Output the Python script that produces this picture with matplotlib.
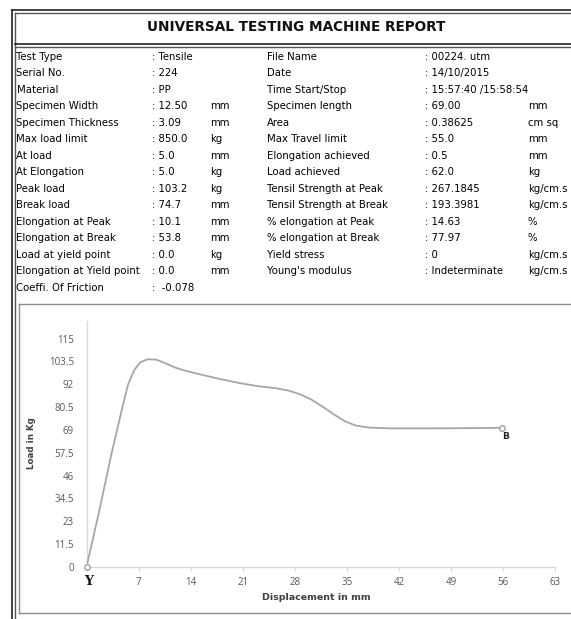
import matplotlib
matplotlib.use("Agg")
import matplotlib.pyplot as plt

# report table (label, value, unit) for left and right columns
left_labels = ["Test Type", "Serial No.", "Material", "Specimen Width", "Specimen Thickness",
               "Max load limit", "At load", "At Elongation", "Peak load", "Break load",
               "Elongation at Peak", "Elongation at Break", "Load at yield point",
               "Elongation at Yield point", "Coeffi. Of Friction"]
left_values = [": Tensile", ": 224", ": PP", ": 12.50", ": 3.09", ": 850.0", ": 5.0", ": 5.0",
               ": 103.2", ": 74.7", ": 10.1", ": 53.8", ": 0.0", ": 0.0", ":  -0.078"]
left_units = ["", "", "", "mm", "mm", "kg", "mm", "kg", "kg", "mm", "mm", "mm", "kg", "mm", ""]

right_labels = ["File Name", "Date", "Time Start/Stop", "Specimen length", "Area",
                "Max Travel limit", "Elongation achieved", "Load achieved",
                "Tensil Strength at Peak", "Tensil Strength at Break", "% elongation at Peak",
                "% elongation at Break", "Yield stress", "Young's modulus"]
right_values = [": 00224. utm", ": 14/10/2015", ": 15:57:40 /15:58:54", ": 69.00", ": 0.38625",
                ": 55.0", ": 0.5", ": 62.0", ": 267.1845", ": 193.3981", ": 14.63", ": 77.97",
                ": 0", ": Indeterminate"]
right_units = ["", "", "", "mm", "cm sq", "mm", "mm", "kg", "kg/cm.s", "kg/cm.s", "%", "%",
               "kg/cm.s", "kg/cm.s"]

# load-displacement curve
disp = [0, 1.7, 3.3, 4.8, 5.6, 6.4, 7.2, 8.2, 9.4, 10.6, 12.0, 13.5, 15.5, 18.0, 20.6,
        23.0, 25.5, 27.2, 28.7, 30.2, 31.8, 33.4, 34.8, 36.2, 38.0, 41.0, 46.0, 51.0, 55.9]
load = [0, 28, 56, 80, 92, 99, 103, 104.6, 104.4, 102.6, 100.3, 98.6, 96.8, 94.6, 92.6,
        91.1, 90.0, 88.8, 87.0, 84.4, 80.6, 76.5, 73.3, 71.2, 70.2, 69.8, 69.8, 69.9, 70.1]

yticks = [0, 11.5, 23, 34.5, 46, 57.5, 69, 80.5, 92, 103.5, 115]
ytick_labels = ["0", "11.5", "23", "34.5", "46", "57.5", "69", "80.5", "92", "103.5", "115"]
xticks = [0, 7, 14, 21, 28, 35, 42, 49, 56, 63]

W, H = 571, 619
fig = plt.figure(figsize=(W / 100, H / 100), dpi=100)

# page overlay in pixel coordinates
pg = fig.add_axes([0, 0, 1, 1])
pg.set_xlim(0, W)
pg.set_ylim(H, 0)
pg.axis("off")

dark = "#222222"
pg.plot([11.5, 11.5], [9.5, H], color=dark, lw=1.2)
pg.plot([14.5, 14.5], [12.5, H], color="#555555", lw=1)
pg.plot([11.5, W], [9.5, 9.5], color=dark, lw=1.2)
pg.plot([14.5, W], [12.5, 12.5], color="#555555", lw=1)
pg.plot([14.5, W], [43.5, 43.5], color=dark, lw=1.2)
pg.plot([14.5, W], [46.5, 46.5], color="#555555", lw=1)

pg.text(296, 27, "UNIVERSAL TESTING MACHINE REPORT", ha="center", va="center",
        fontsize=9.8, fontweight="bold", color="#111111", family="DejaVu Sans")

tf = dict(fontsize=7.3, color="#000000", va="center", family="DejaVu Sans")
for i, (lab, val, unit) in enumerate(zip(left_labels, left_values, left_units)):
    y = 56.7 + 16.5 * i
    pg.text(16.5, y, lab, **tf)
    pg.text(152, y, val, **tf)
    pg.text(210, y, unit, **tf)
for i, (lab, val, unit) in enumerate(zip(right_labels, right_values, right_units)):
    y = 56.7 + 16.5 * i
    pg.text(267, y, lab, **tf)
    pg.text(425, y, val, **tf)
    pg.text(528, y, unit, **tf)

# chart frame
box = "#8c8c8c"
pg.plot([18.5, 18.5], [304, 613], color=box, lw=1)
pg.plot([18.5, W], [304, 304], color=box, lw=1)
pg.plot([18.5, W], [613, 613], color=box, lw=1)

pg.text(31, 443, "Load in Kg", rotation=90, ha="center", va="center",
        fontsize=6.3, fontweight="bold", color="#404040", family="DejaVu Sans")
pg.text(316, 598, "Displacement in mm", ha="center", va="center",
        fontsize=6.8, fontweight="bold", color="#404040", family="DejaVu Sans")

# chart axes: x 0..63 -> px 86.5..555, y 0 -> px 567, 1.986 px per kg
x0, x1 = 86.5, 555
y0, ppk = 567, 1.986
ytop = 124
ax = fig.add_axes([x0 / W, (H - y0) / H, (x1 - x0) / W, ytop * ppk / H])
ax.set_facecolor("none")
ax.plot(disp, load, color="#a6a6a6", lw=1.3, zorder=3, solid_joinstyle="round")
ax.plot([disp[0], disp[-1]], [load[0], load[-1]], ls="none", marker="o", ms=4,
        mfc="white", mec="#a0a0a0", mew=1, zorder=4, clip_on=False)
ax.set_xlim(0, 63)
ax.set_ylim(0, ytop)
for s in ["top", "right"]:
    ax.spines[s].set_visible(False)
for s in ["left", "bottom"]:
    ax.spines[s].set_color("#d9d9d9")
    ax.spines[s].set_linewidth(1)
ax.set_yticks(yticks)
ax.set_yticklabels(ytick_labels)
ax.set_xticks(xticks)
ax.set_xticklabels([""] + [str(t) for t in xticks[1:]])
ax.tick_params(axis="y", length=0, pad=9, labelsize=7, labelcolor="#595959")
ax.tick_params(axis="x", length=3, color="#d9d9d9", pad=4, labelsize=7, labelcolor="#595959")
for lbl in ax.get_xticklabels() + ax.get_yticklabels():
    lbl.set_family("Open Sans")

ax.text(0.3, -7.5, "Y", ha="center", va="center", fontsize=9, fontweight="bold",
        family="DejaVu Serif", color="#111111", clip_on=False)
ax.text(56.3, 65.6, "B", ha="center", va="center", fontsize=6.5, fontweight="bold",
        family="DejaVu Sans", color="#222222")

fig.savefig("out.png", dpi=100)
